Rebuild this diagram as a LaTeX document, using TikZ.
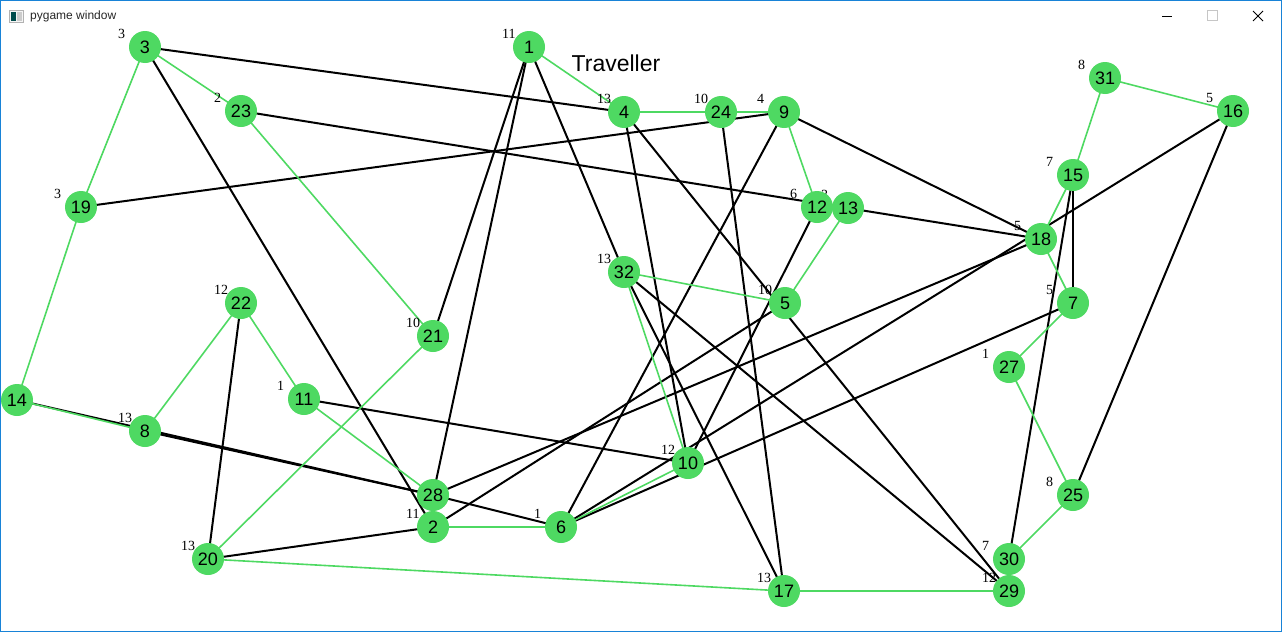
\documentclass[tikz,border=0pt]{standalone}
\usepackage{fontspec}
\setmainfont{Liberation Sans}
\newfontfamily\labfont{Liberation Serif}
\usetikzlibrary{backgrounds}
\definecolor{vgreen}{RGB}{78,217,98}
\definecolor{winblue}{RGB}{24,131,215}
\begin{document}
\begin{tikzpicture}[x=1pt,y=-1pt,
  vtx/.style={circle,fill=vgreen,minimum size=32pt,inner sep=0pt,font=\fontsize{18}{18}\selectfont},
  tag/.style={anchor=west,font=\labfont\fontsize{14}{14}\selectfont,inner sep=0pt},
  tour/.style={draw=vgreen,line width=1.6pt},
  link/.style={draw=black,line width=2pt}]
\useasboundingbox (0,0) rectangle (1282,632);
% window chrome
\draw[winblue,line width=1pt] (0.5,0.5) rectangle (1281.5,631.5);
\draw[gray!60,fill=gray!8] (9.5,10.5) rectangle (23.5,22.5);
\fill[teal!60!black] (11,12) rectangle (16,21);
\fill[gray!40] (17,12) rectangle (22,21);
\node[anchor=west,inner sep=0pt,font=\fontsize{12}{12}\selectfont,text=black!85] (wtitle) at (30,16) {pygame window};
\draw[black,line width=1pt] (1162,16) -- (1172,16);
\draw[gray!45,line width=1pt] (1207.5,10.5) rectangle (1217.5,20.5);
\draw[black,line width=1pt] (1253,11) -- (1263,21) (1253,21) -- (1263,11);
\node[font=\fontsize{23}{23}\selectfont,inner sep=0pt] (head) at (616,63) {Traveller};
% small labels (drawn beneath the circles)
\foreach \n/\x/\y/\t in {1/529/47/11,2/433/527/11,3/145/47/3,4/624/112/13,5/785/303/10,6/561/527/1,
  7/1073/303/5,8/145/431/13,9/784/112/4,10/688/463/12,11/304/399/1,12/817/207/6,13/848/208/3,
  15/1073/175/7,16/1233/111/5,17/784/591/13,18/1041/239/5,19/81/207/3,20/208/559/13,21/433/336/10,
  22/241/303/12,23/241/111/2,24/721/112/10,25/1073/495/8,27/1009/367/1,29/1009/591/12,30/1009/559/7,
  31/1105/78/8,32/624/272/13}
  {\node[tag] (t\n) at (\x-27,\y-13) {\t};}
% vertices
\foreach \n/\x/\y in {1/529/47,2/433/527,3/145/47,4/624/112,5/785/303,6/561/527,7/1073/303,
  8/145/431,9/784/112,10/688/463,11/304/399,12/817/207,13/848/208,14/17/400,15/1073/175,
  16/1233/111,17/784/591,18/1041/239,19/81/207,20/208/559,21/433/336,22/241/303,23/241/111,
  24/721/112,25/1073/495,27/1009/367,28/433/495,29/1009/591,30/1009/559,31/1105/78,32/624/272}
  {\node[vtx] (v\n) at (\x,\y) {\n};}
\begin{scope}[on background layer]
% black links
\foreach \a/\b in {3/4,3/2,23/18,19/9,1/21,1/28,1/32,4/10,4/29,24/17,9/18,9/6,12/10,2/5,28/18,
  28/6,11/10,2/20,22/20,14/28,8/28,32/17,32/29,16/6,6/7,15/7,15/30,16/25}
  {\draw[link] (v\a.center) -- (v\b.center);}
% green tour
\foreach \a/\b in {1/4,4/24,24/9,9/12,12/13,13/5,5/32,32/10,10/6,6/2,2/28,28/11,11/22,22/8,8/14,
  14/19,19/3,3/23,23/21,21/20,20/17,17/29,29/30,30/25,25/27,27/7,7/18,18/15,15/31,31/16}
  {\draw[tour] (v\a.center) -- (v\b.center);}
\end{scope}
\end{tikzpicture}
\end{document}
